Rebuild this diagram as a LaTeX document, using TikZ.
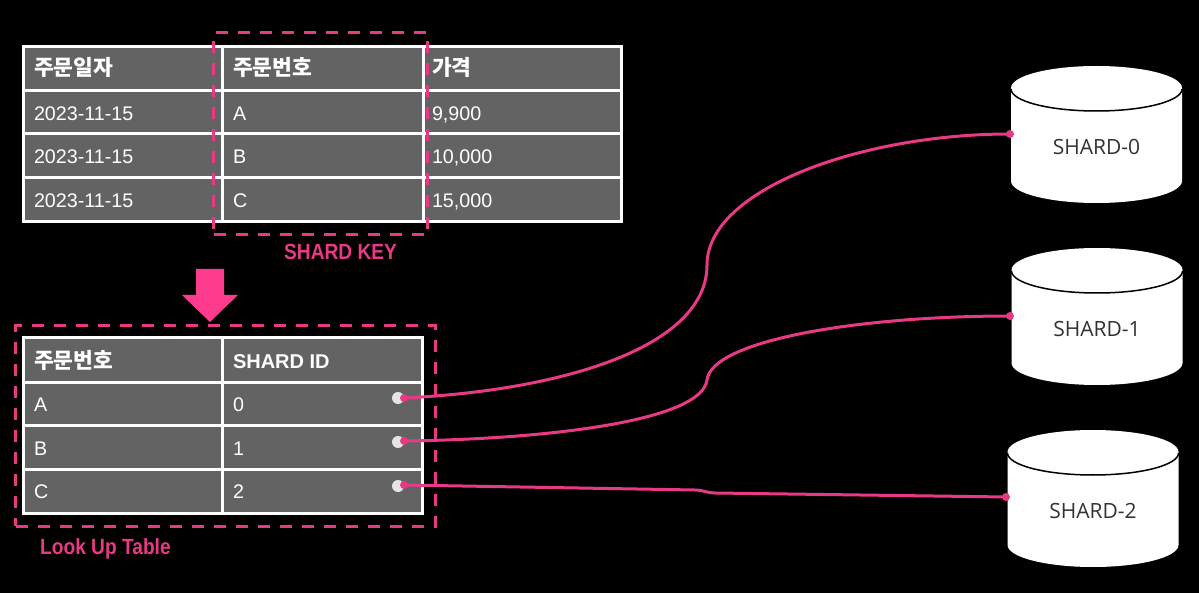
\documentclass[tikz,border=0pt]{standalone}
\usepackage{fontspec}
\setmainfont{Liberation Sans}
\newfontfamily\kr{Noto Sans CJK KR}
\newfontfamily\lab[FakeStretch=0.87]{Liberation Sans}
\newfontfamily\shard{Open Sans}
\definecolor{pk}{HTML}{E83A84}
\definecolor{pkb}{HTML}{FF3B8D}
\definecolor{cellg}{HTML}{636363}
\tikzset{
  cell/.style={draw=white,fill=cellg,line width=3pt,anchor=north west,outer sep=0pt,inner sep=0pt,
    minimum height=#1},
  dashbox/.style={rectangle,draw=pk,line width=3pt,dash pattern=on 12pt off 10pt,fill=none,inner sep=0pt,outer sep=0pt,anchor=north west},
  celltext/.style={anchor=base west,text=white,inner sep=0pt,outer sep=0pt,font=\fontsize{19.7}{22}\selectfont},
  headtext/.style={celltext,font=\fontsize{21.5}{22}\selectfont\kr\bfseries},
  headlatin/.style={celltext,font=\fontsize{20}{22}\selectfont\bfseries},
  pinklabel/.style={anchor=base west,text=pk,inner sep=0pt,font=\fontsize{22}{24}\selectfont\lab\bfseries},
  shardlabel/.style={anchor=center,text=black!80,inner sep=0pt,font=\fontsize{21}{24}\selectfont\shard},
  wdot/.style={circle,fill=white!90!black,minimum size=12pt,inner sep=0pt,outer sep=0pt},
  pdot/.style={circle,fill=pk,minimum size=8pt,inner sep=0pt,outer sep=0pt},
  conn/.style={draw=pk,line width=3pt},
  cyl/.style={fill=white},
  cylrim/.style={draw=black,line width=1.5pt}
}
\begin{document}
\begin{tikzpicture}[x=1pt,y=-1pt]
\useasboundingbox (0,0) rectangle (1199,593);
\fill[black] (0,0) rectangle (1199,593);

% upper table
\foreach \cx/\cw/\cn in {23/199/a,222/201/b,423/198/c}{
  \foreach \ry/\rn in {46.5/0,90.5/1,134/2,178/3}{
    \node[cell=43.7pt,minimum width=\cw pt] (u\cn\rn) at (\cx,\ry) {};
  }
}
\node[headtext] (uh1) at (34,76) {주문일자};
\node[headtext] (uh2) at (233,76) {주문번호};
\node[headtext] (uh3) at (432,76) {가격};
\foreach \yy/\nm/\bb/\cc in {120.5/1/A/9{,}900,164/2/B/10{,}000,207.5/3/C/15{,}000}{
  \node[celltext] (ua\nm) at (34,\yy) {2023-11-15};
  \node[celltext] (ub\nm) at (233,\yy) {\bb};
  \node[celltext] (uc\nm) at (432,\yy) {\cc};
}

% lower table
\foreach \cx/\cw/\cn in {23/199/a,222/200/b}{
  \foreach \ry/\rn in {338/0,382/1,425.5/2,469/3}{
    \node[cell=44pt,minimum width=\cw pt] (l\cn\rn) at (\cx,\ry) {};
  }
}
\node[headtext] (lh1) at (34,368) {주문번호};
\node[headlatin] (lh2) at (233,368.5) {SHARD ID};
\foreach \yy/\nm/\bb/\cc in {411.5/1/A/0,455.5/2/B/1,498.5/3/C/2}{
  \node[celltext] (la\nm) at (34,\yy) {\bb};
  \node[celltext] (lb\nm) at (233,\yy) {\cc};
}

% dashed boxes and labels
\node[dashbox,minimum width=214pt,minimum height=202pt] (keybox) at (213.5,33) {};
\node[dashbox,minimum width=420pt,minimum height=200pt] (lutbox) at (15.5,326) {};
\node[pinklabel] (keylab) at (284,260) {SHARD KEY};
\node[pinklabel] (lutlab) at (40,554) {Look Up Table};

% block arrow
\fill[pkb] (196,269) -- (224,269) -- (224,295) -- (238,295) -- (210,322) -- (182,295) -- (196,295) -- cycle;

% cylinders
\foreach \cx/\cy/\nm/\tx in {1096.5/88/0/SHARD-0,1097/270/1/SHARD-1,1093/452/2/SHARD-2}{
  \fill[cyl] (\cx-85.5,\cy) -- (\cx-85.5,\cy+93) arc[start angle=180,end angle=360,x radius=85.5,y radius=-22] -- (\cx+85.5,\cy) arc[start angle=0,end angle=180,x radius=85.5,y radius=-22] -- cycle;
  \draw[cylrim] (\cx-85.5,\cy+1) arc[start angle=180,end angle=360,x radius=85.5,y radius=-22];
  \node[shardlabel] (s\nm) at (\cx,\cy+58.5) {\tx};
}

% connector ends
\node[wdot] (wa) at (398,398) {};
\node[wdot] (wb) at (398,442) {};
\node[wdot] (wc) at (398,486) {};
\node[pdot] (pa) at (404,398) {};
\node[pdot] (pb) at (404,441) {};
\node[pdot] (pc) at (404,485) {};
\node[pdot] (e0) at (1010,134) {};
\node[pdot] (e1) at (1010,316) {};
\node[pdot] (e2) at (1006,497) {};
\coordinate (m0) at (707,265);
\coordinate (m1) at (707,380);
\coordinate (m2a) at (695,490);
\coordinate (m2b) at (715,493);

\draw[conn] (pa.center) .. controls +(165,-8) and +(0,80) .. (m0) .. controls +(0,-75) and +(-150,0) .. (e0.center);
\draw[conn] (pb.center) .. controls +(150,-2) and +(-5,40) .. (m1) .. controls +(5,-40) and +(-150,0) .. (e1.center);
\draw[conn] (pc.center) -- (m2a) .. controls +(8,0) and +(-8,0) .. (m2b) -- (e2.center);
\end{tikzpicture}
\end{document}
